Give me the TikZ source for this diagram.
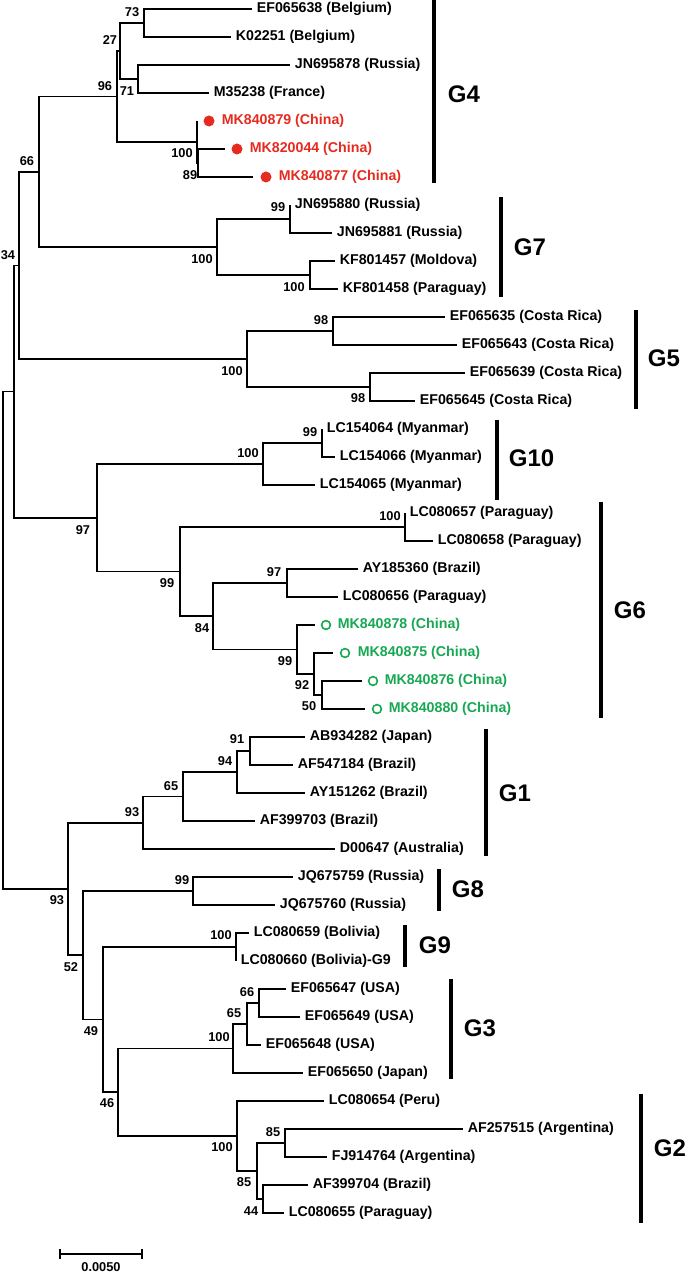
\documentclass[tikz,border=0pt]{standalone}
\usepackage{fontspec}
\setmainfont{Liberation Sans}
\usetikzlibrary{arrows.meta}
\definecolor{cnred}{RGB}{229,43,32}
\definecolor{cngreen}{RGB}{24,168,84}
\begin{document}
\begin{tikzpicture}[x=0.5pt, y=-0.5pt, line width=0.85pt, font=\fontsize{7.1}{8}\selectfont\bfseries,
	leaf/.style={anchor=west, inner xsep=2pt, inner ysep=0pt},
	boot/.style={font=\fontsize{6.4}{7}\selectfont\bfseries, inner sep=0pt},
	grp/.style={anchor=west, inner sep=0pt, font=\fontsize{12}{14}\selectfont\bfseries},
	bar/.style={line width=1.65pt},
	reddot/.style={circle, fill=cnred, inner sep=0pt, minimum size=5.5pt},
	greendot/.style={circle, draw=cngreen, line width=0.8pt, inner sep=0pt, minimum size=4.4pt}]
	\useasboundingbox (0,0) rectangle (685,1272);
	% leaves
	\node[leaf] (EF065638) at (252,9) {EF065638 (Belgium)};
	\node[leaf] (K02251) at (231,37) {K02251 (Belgium)};
	\node[leaf] (JN695878) at (290,65) {JN695878 (Russia)};
	\node[leaf] (M35238) at (209,93) {M35238 (France)};
	\coordinate (e-MK840879) at (197,121);
	\node[reddot] (d-MK840879) at (209,121) {};
	\node[leaf, text=cnred] (MK840879) at (217,121) {MK840879 (China)};
	\coordinate (e-MK820044) at (225,149);
	\node[reddot] (d-MK820044) at (237,149) {};
	\node[leaf, text=cnred] (MK820044) at (245,149) {MK820044 (China)};
	\coordinate (e-MK840877) at (253,177);
	\node[reddot] (d-MK840877) at (266,177) {};
	\node[leaf, text=cnred] (MK840877) at (274,177) {MK840877 (China)};
	\node[leaf] (JN695880) at (290,205) {JN695880 (Russia)};
	\node[leaf] (JN695881) at (332,233) {JN695881 (Russia)};
	\node[leaf] (KF801457) at (335,261) {KF801457 (Moldova)};
	\node[leaf] (KF801458) at (338,289) {KF801458 (Paraguay)};
	\node[leaf] (EF065635) at (445,317) {EF065635 (Costa Rica)};
	\node[leaf] (EF065643) at (457,345) {EF065643 (Costa Rica)};
	\node[leaf] (EF065639) at (465,373) {EF065639 (Costa Rica)};
	\node[leaf] (EF065645) at (415,401) {EF065645 (Costa Rica)};
	\node[leaf] (LC154064) at (322,429) {LC154064 (Myanmar)};
	\node[leaf] (LC154066) at (335,457) {LC154066 (Myanmar)};
	\node[leaf] (LC154065) at (315,485) {LC154065 (Myanmar)};
	\node[leaf] (LC080657) at (405,513) {LC080657 (Paraguay)};
	\node[leaf] (LC080658) at (433,541) {LC080658 (Paraguay)};
	\node[leaf] (AY185360) at (358,569) {AY185360 (Brazil)};
	\node[leaf] (LC080656) at (338,597) {LC080656 (Paraguay)};
	\coordinate (e-MK840878) at (315,625);
	\node[greendot] (d-MK840878) at (326,625) {};
	\node[leaf, text=cngreen] (MK840878) at (333,625) {MK840878 (China)};
	\coordinate (e-MK840875) at (333,653);
	\node[greendot] (d-MK840875) at (345,653) {};
	\node[leaf, text=cngreen] (MK840875) at (353,653) {MK840875 (China)};
	\coordinate (e-MK840876) at (362,681);
	\node[greendot] (d-MK840876) at (373,681) {};
	\node[leaf, text=cngreen] (MK840876) at (380,681) {MK840876 (China)};
	\coordinate (e-MK840880) at (365,709);
	\node[greendot] (d-MK840880) at (377,709) {};
	\node[leaf, text=cngreen] (MK840880) at (384,709) {MK840880 (China)};
	\node[leaf] (AB934282) at (305,737) {AB934282 (Japan)};
	\node[leaf] (AF547184) at (293,765) {AF547184 (Brazil)};
	\node[leaf] (AY151262) at (305,793) {AY151262 (Brazil)};
	\node[leaf] (AF399703) at (255,821) {AF399703 (Brazil)};
	\node[leaf] (D00647) at (335,849) {D00647 (Australia)};
	\node[leaf] (JQ675759) at (293,877) {JQ675759 (Russia)};
	\node[leaf] (JQ675760) at (275,905) {JQ675760 (Russia)};
	\node[leaf] (LC080659) at (249,933) {LC080659 (Bolivia)};
	\node[leaf] (LC080660) at (236,961) {LC080660 (Bolivia)-G9};
	\node[leaf] (EF065647) at (286,989) {EF065647 (USA)};
	\node[leaf] (EF065649) at (300,1017) {EF065649 (USA)};
	\node[leaf] (EF065648) at (261,1045) {EF065648 (USA)};
	\node[leaf] (EF065650) at (303,1073) {EF065650 (Japan)};
	\node[leaf] (LC080654) at (324,1101) {LC080654 (Peru)};
	\node[leaf] (AF257515) at (463,1129) {AF257515 (Argentina)};
	\node[leaf] (FJ914764) at (327,1157) {FJ914764 (Argentina)};
	\node[leaf] (AF399704) at (308,1185) {AF399704 (Brazil)};
	\node[leaf] (LC080655) at (284,1213) {LC080655 (Paraguay)};
	% inner nodes
	\coordinate (n73) at (144,23);
	\coordinate (n71) at (138,79);
	\coordinate (n27) at (120,51);
	\coordinate (n89) at (198,163);
	\coordinate (n100a) at (197,142);
	\coordinate (n96) at (117,96.5);
	\coordinate (n99a) at (290,219);
	\coordinate (n100c) at (310,275);
	\coordinate (n100b) at (217,247);
	\coordinate (n66) at (39,171.75);
	\coordinate (n98a) at (333,331);
	\coordinate (n98b) at (370,387);
	\coordinate (n100d) at (247,359);
	\coordinate (n34) at (19,265.4);
	\coordinate (n99b) at (322,443);
	\coordinate (n100e) at (263,464);
	\coordinate (n100f) at (405,527);
	\coordinate (n97b) at (287,583);
	\coordinate (n50) at (322,695);
	\coordinate (n92) at (314,674);
	\coordinate (n99d) at (297,649.5);
	\coordinate (n84) at (213,616.25);
	\coordinate (n99c) at (180,571.6);
	\coordinate (n97a) at (97,517.8);
	\coordinate (nx) at (14,391.6);
	\coordinate (n91) at (250,751);
	\coordinate (n94) at (237,772);
	\coordinate (n65a) at (183,796.5);
	\coordinate (n93a) at (143,822.75);
	\coordinate (n99e) at (193,891);
	\coordinate (n100g) at (236,947);
	\coordinate (n66b) at (259,1003);
	\coordinate (n65b) at (247,1024);
	\coordinate (n100h) at (233,1048.5);
	\coordinate (n85b) at (285,1143);
	\coordinate (n44) at (263,1199);
	\coordinate (n85a) at (257,1171);
	\coordinate (n100i) at (237,1136);
	\coordinate (n46) at (118,1092.25);
	\coordinate (n49) at (103,1019.6);
	\coordinate (n52) at (83,955.3);
	\coordinate (n93b) at (68,889);
	\coordinate (root) at (3,640.3);
	% branches
	\draw (n73) |- (EF065638.west) (n73) |- (K02251.west);
	\draw (n71) |- (JN695878.west) (n71) |- (M35238.west);
	\draw (n27) |- (n73) (n27) |- (n71);
	\draw (n89) |- (e-MK820044) (n89) |- (e-MK840877);
	\draw (n100a) |- (e-MK840879) (n100a) |- (n89);
	\draw (n96) |- (n27) (n96) |- (n100a);
	\draw (n99a) |- (JN695880.west) (n99a) |- (JN695881.west);
	\draw (n100c) |- (KF801457.west) (n100c) |- (KF801458.west);
	\draw (n100b) |- (n99a) (n100b) |- (n100c);
	\draw (n66) |- (n96) (n66) |- (n100b);
	\draw (n98a) |- (EF065635.west) (n98a) |- (EF065643.west);
	\draw (n98b) |- (EF065639.west) (n98b) |- (EF065645.west);
	\draw (n100d) |- (n98a) (n100d) |- (n98b);
	\draw (n34) |- (n66) (n34) |- (n100d);
	\draw (n99b) |- (LC154064.west) (n99b) |- (LC154066.west);
	\draw (n100e) |- (n99b) (n100e) |- (LC154065.west);
	\draw (n100f) |- (LC080657.west) (n100f) |- (LC080658.west);
	\draw (n97b) |- (AY185360.west) (n97b) |- (LC080656.west);
	\draw (n50) |- (e-MK840876) (n50) |- (e-MK840880);
	\draw (n92) |- (e-MK840875) (n92) |- (n50);
	\draw (n99d) |- (e-MK840878) (n99d) |- (n92);
	\draw (n84) |- (n97b) (n84) |- (n99d);
	\draw (n99c) |- (n100f) (n99c) |- (n84);
	\draw (n97a) |- (n100e) (n97a) |- (n99c);
	\draw (nx) |- (n34) (nx) |- (n97a);
	\draw (n91) |- (AB934282.west) (n91) |- (AF547184.west);
	\draw (n94) |- (n91) (n94) |- (AY151262.west);
	\draw (n65a) |- (n94) (n65a) |- (AF399703.west);
	\draw (n93a) |- (n65a) (n93a) |- (D00647.west);
	\draw (n99e) |- (JQ675759.west) (n99e) |- (JQ675760.west);
	\draw (n100g) |- (LC080659.west) (n100g) |- (LC080660.west);
	\draw (n66b) |- (EF065647.west) (n66b) |- (EF065649.west);
	\draw (n65b) |- (n66b) (n65b) |- (EF065648.west);
	\draw (n100h) |- (n65b) (n100h) |- (EF065650.west);
	\draw (n85b) |- (AF257515.west) (n85b) |- (FJ914764.west);
	\draw (n44) |- (AF399704.west) (n44) |- (LC080655.west);
	\draw (n85a) |- (n85b) (n85a) |- (n44);
	\draw (n100i) |- (LC080654.west) (n100i) |- (n85a);
	\draw (n46) |- (n100h) (n46) |- (n100i);
	\draw (n49) |- (n100g) (n49) |- (n46);
	\draw (n52) |- (n99e) (n52) |- (n49);
	\draw (n93b) |- (n93a) (n93b) |- (n52);
	\draw (root) |- (nx) (root) |- (n93b);
	% bootstrap values
	\node[boot] (b73) at (132,12) {73};
	\node[boot] (b71) at (127,91) {71};
	\node[boot] (b27) at (110,40) {27};
	\node[boot] (b96) at (105,86) {96};
	\node[boot] (b100a) at (182,153) {100};
	\node[boot] (b89) at (190,175) {89};
	\node[boot] (b66) at (27,161) {66};
	\node[boot] (b99a) at (278,207) {99};
	\node[boot] (b100b) at (202,259) {100};
	\node[boot] (b100c) at (294,287) {100};
	\node[boot] (b34) at (8,255) {34};
	\node[boot] (b98a) at (321,320) {98};
	\node[boot] (b98b) at (358,398) {98};
	\node[boot] (b100d) at (232,371) {100};
	\node[boot] (b99b) at (310,432) {99};
	\node[boot] (b100e) at (248,453) {100};
	\node[boot] (b100f) at (390,516) {100};
	\node[boot] (b97b) at (274,572) {97};
	\node[boot] (b50) at (309,706) {50};
	\node[boot] (b92) at (302,685) {92};
	\node[boot] (b99d) at (285,661) {99};
	\node[boot] (b84) at (202,628) {84};
	\node[boot] (b99c) at (167,583) {99};
	\node[boot] (b97a) at (83,530) {97};
	\node[boot] (b91) at (237,739) {91};
	\node[boot] (b94) at (225,761) {94};
	\node[boot] (b65a) at (171,786) {65};
	\node[boot] (b93a) at (132,812) {93};
	\node[boot] (b99e) at (182,880) {99};
	\node[boot] (b93b) at (57,900) {93};
	\node[boot] (b52) at (71,967) {52};
	\node[boot] (b100g) at (221,935) {100};
	\node[boot] (b49) at (91,1031) {49};
	\node[boot] (b66b) at (247,992) {66};
	\node[boot] (b65b) at (234,1013) {65};
	\node[boot] (b100h) at (219,1037) {100};
	\node[boot] (b46) at (107,1103) {46};
	\node[boot] (b85b) at (273,1132) {85};
	\node[boot] (b85a) at (244,1182) {85};
	\node[boot] (b44) at (251,1211) {44};
	\node[boot] (b100i) at (222,1147) {100};
	% genotype bars
	\draw[bar] (434,0) -- (434,183);
	\node[grp] (G4) at (447,94) {G4};
	\draw[bar] (501,197) -- (501,297);
	\node[grp] (G7) at (513,247) {G7};
	\draw[bar] (636,310) -- (636,409);
	\node[grp] (G5) at (647,358) {G5};
	\draw[bar] (497,420) -- (497,500);
	\node[grp] (G10) at (508,458) {G10};
	\draw[bar] (601,502) -- (601,718);
	\node[grp] (G6) at (613,610) {G6};
	\draw[bar] (486,729) -- (486,856);
	\node[grp] (G1) at (498,793) {G1};
	\draw[bar] (439,869) -- (439,911);
	\node[grp] (G8) at (451,889) {G8};
	\draw[bar] (405,925) -- (405,967);
	\node[grp] (G9) at (418,945) {G9};
	\draw[bar] (451,979) -- (451,1079);
	\node[grp] (G3) at (463,1028) {G3};
	\draw[bar] (641,1094) -- (641,1223);
	\node[grp] (G2) at (653,1148) {G2};
	% scale bar
	\coordinate (sbL) at (59,1254);
	\coordinate (sbR) at (143,1254);
	\draw[{Bar[width=5pt]}-{Bar[width=5pt]}] (sbL) -- (sbR);
	\node[boot] (sbtext) at (101,1267) {0.0050};
\end{tikzpicture}
\end{document}
